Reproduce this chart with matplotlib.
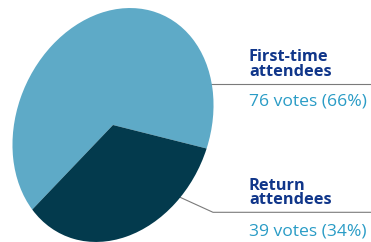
import numpy as np
import matplotlib
matplotlib.use("Agg")
import matplotlib.pyplot as plt
from matplotlib.transforms import Affine2D

# data
labels = ["First-time\nattendees", "Return\nattendees"]
votes = [76, 39]
shares = ["66%", "34%"]
colors = ["#5eaac7", "#033a4d"]

plt.rcParams["font.family"] = ["Open Sans", "DejaVu Sans"]

W, H = 371, 242
fig = plt.figure(figsize=(W / 100, H / 100), dpi=100)
ax = fig.add_axes([0, 0, 1, 1])

wedges, _ = ax.pie(votes, colors=colors, startangle=138.2, counterclock=True,
                   wedgeprops=dict(linewidth=0))

# tilted pie: map unit circle to a rotated ellipse (pixel coords, y down)
cx, cy = 113, 125
tilt = Affine2D(np.array([[100.1, -9.2, cx],
                          [-9.2, 116.6, cy],
                          [0, 0, 1]]))
for w in wedges:
    w.set_transform(tilt + ax.transData)
    w.set_zorder(3)

ax.set_aspect("auto")
ax.set_xlim(0, W)
ax.set_ylim(H, 0)
ax.axis("off")

# leader lines (drawn under the pie)
line_kw = dict(color="#7a7a7a", linewidth=0.8, zorder=1, solid_capstyle="butt")
ax.plot([150, W], [83.5, 83.5], **line_kw)
ax.plot([140, 213, W], [179, 212.3, 212.3], **line_kw)

title_kw = dict(color="#10368a", fontsize=11.8, fontweight="bold",
                ha="left", va="baseline", linespacing=0.89)
val_kw = dict(color="#2a9cc6", fontsize=12.6, ha="left", va="baseline")

# label blocks: (baseline of last title line, baseline of value)
blocks = [(76.0, 105.0), (204.3, 235.0)]
for lab, v, s, (b2, b3) in zip(labels, votes, shares, blocks):
    ax.text(249, b2, lab, **title_kw)
    ax.text(249, b3, f"{v} votes ({s})", **val_kw)

fig.savefig("out.png", dpi=100)
